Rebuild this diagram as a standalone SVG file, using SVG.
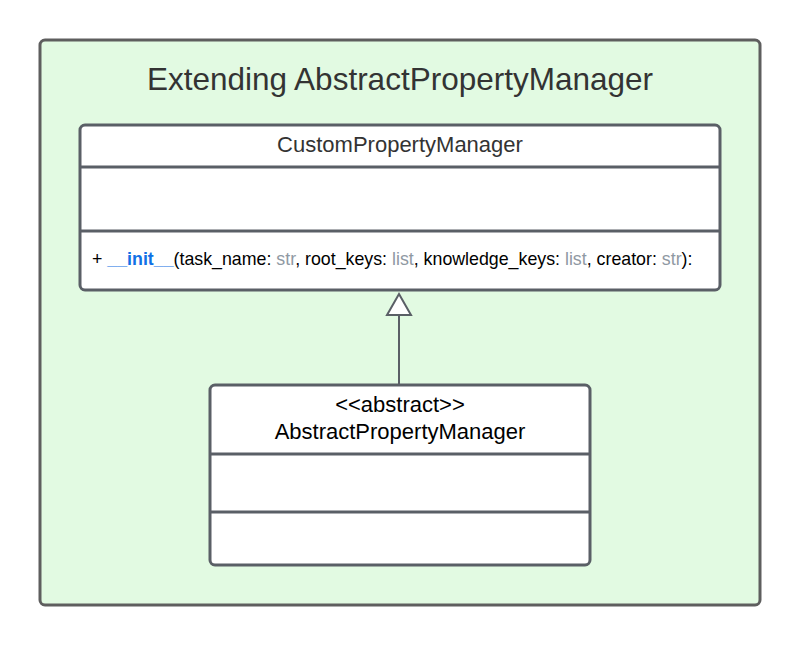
<svg xmlns="http://www.w3.org/2000/svg" width="800" height="645" viewBox="0 0 800 645">
<style>
.box{fill:#ffffff;stroke:#5a5f66;stroke-width:3}
.div{stroke:#5a5f66;stroke-width:3}
.t{font-family:"Liberation Sans",Arial,sans-serif;fill:#000}
.g{fill:#8f99a3}
.b{fill:#1071e5;font-weight:bold}
</style>
<g id="frame">
<rect x="40" y="40" width="720" height="565" rx="5" fill="#e2fae2" stroke="#5e5e5e" stroke-width="3"/>
<text x="400" y="90" text-anchor="middle" class="t" font-size="31.5" style="fill:#333333">Extending AbstractPropertyManager</text>
</g>
<g id="CustomPropertyManager">
<rect class="box" x="80" y="125" width="640" height="165" rx="5"/>
<line class="div" x1="80" y1="167" x2="720" y2="167"/>
<line class="div" x1="80" y1="231" x2="720" y2="231"/>
<text x="400" y="152" text-anchor="middle" class="t" font-size="22" style="fill:#333333">CustomPropertyManager</text>
<text x="92" y="265" class="t" font-size="17.8">+ <tspan class="b">__init__</tspan>(task_name: <tspan class="g">str</tspan>, root_keys: <tspan class="g">list</tspan>, knowledge_keys: <tspan class="g">list</tspan>, creator: <tspan class="g">str</tspan>):</text>
</g>
<g id="AbstractPropertyManager">
<rect class="box" x="210" y="385" width="380" height="180" rx="5"/>
<line class="div" x1="210" y1="454" x2="590" y2="454"/>
<line class="div" x1="210" y1="512" x2="590" y2="512"/>
<text x="400" y="412" text-anchor="middle" class="t" font-size="22">&lt;&lt;abstract&gt;&gt;</text>
<text x="400" y="439" text-anchor="middle" class="t" font-size="22">AbstractPropertyManager</text>
</g>
<g id="connectors">
<line x1="399" y1="384" x2="399" y2="315" stroke="#5a5f66" stroke-width="2"/>
<polygon points="399,294 411,315 387,315" fill="#ffffff" stroke="#5a5f66" stroke-width="2"/>
</g>
</svg>
